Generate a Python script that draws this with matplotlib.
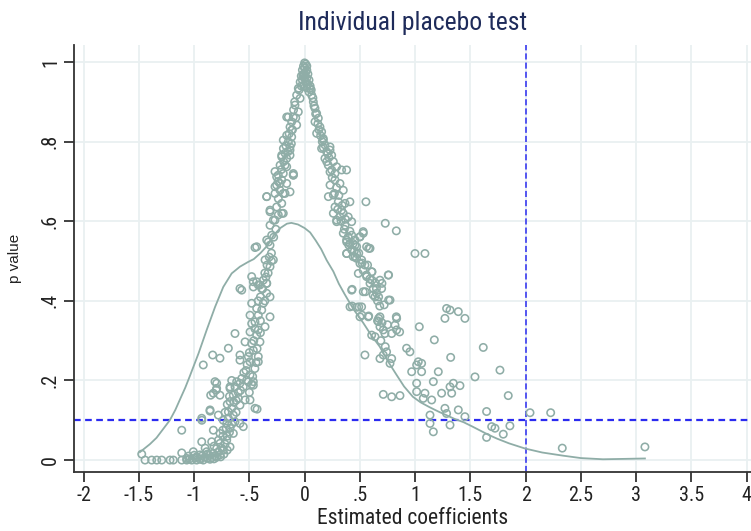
import matplotlib
matplotlib.use("Agg")
import matplotlib.pyplot as plt
from matplotlib import font_manager

# ---------------- data ----------------
title_text = "Individual placebo test"
x_label = "Estimated coefficients"
y_label = "p value"
x_ticks = [-2, -1.5, -1, -0.5, 0, 0.5, 1, 1.5, 2, 2.5, 3, 3.5, 4]
x_tick_labels = ["-2", "-1.5", "-1", "-.5", "0", ".5", "1", "1.5", "2", "2.5", "3", "3.5", "4"]
y_ticks = [0, 0.2, 0.4, 0.6, 0.8, 1.0]
y_tick_labels = ["0", ".2", ".4", ".6", ".8", "1"]
true_coef = 2.0
p_threshold = 0.1

peak_pts = [(0.00, 0.998), (0.01, 0.995), (-0.01, 0.99), (0.02, 0.99), (0.00, 0.985), (-0.02, 0.98),
            (0.02, 0.98), (0.01, 0.975), (-0.01, 0.97), (0.03, 0.97), (-0.03, 0.965), (0.00, 0.96),
            (0.02, 0.96), (-0.02, 0.955), (0.04, 0.955), (-0.04, 0.95), (0.01, 0.95), (0.03, 0.945),
            (-0.03, 0.94), (0.05, 0.94), (-0.01, 0.94), (0.02, 0.935), (-0.05, 0.93), (0.04, 0.925),
            (0.00, 0.97), (-0.015, 0.965)]

left_upper = [(-0.057, 0.934), (-0.072, 0.917), (-0.041, 0.909), (-0.087, 0.892), (-0.057, 0.875),
              (-0.102, 0.862), (-0.147, 0.862), (-0.117, 0.85), (-0.072, 0.842), (-0.132, 0.837),
              (-0.162, 0.816), (-0.117, 0.812), (-0.147, 0.80), (-0.192, 0.783), (-0.177, 0.771),
              (-0.207, 0.766), (-0.132, 0.766), (-0.162, 0.758), (-0.222, 0.741), (-0.177, 0.741),
              (-0.268, 0.725), (-0.102, 0.72), (-0.162, 0.862), (-0.117, 0.829), (-0.193, 0.804),
              (-0.132, 0.779), (-0.132, 0.787), (-0.207, 0.762), (-0.162, 0.737), (-0.253, 0.712),
              (-0.223, 0.695), (-0.268, 0.687), (-0.193, 0.670), (-0.102, 0.716), (-0.09, 0.90),
              (-0.10, 0.88), (-0.08, 0.86), (-0.11, 0.83), (-0.14, 0.82), (-0.12, 0.795),
              (-0.17, 0.79), (-0.15, 0.775), (-0.19, 0.75), (-0.21, 0.73), (-0.24, 0.70)]

left_mid = [(-0.238, 0.716), (-0.193, 0.72), (-0.207, 0.704), (-0.253, 0.691), (-0.162, 0.695),
            (-0.223, 0.678), (-0.177, 0.67), (-0.268, 0.67), (-0.343, 0.662), (-0.238, 0.657),
            (-0.132, 0.674), (-0.102, 0.716), (-0.207, 0.645), (-0.313, 0.624), (-0.253, 0.636),
            (-0.193, 0.62), (-0.238, 0.616), (-0.268, 0.603), (-0.313, 0.59), (-0.298, 0.565),
            (-0.343, 0.553), (-0.313, 0.54), (-0.449, 0.534), (-0.328, 0.548), (-0.358, 0.503),
            (-0.283, 0.503), (-0.313, 0.486), (-0.479, 0.461), (-0.434, 0.448), (-0.374, 0.452),
            (-0.404, 0.44), (-0.343, 0.444), (-0.585, 0.431), (-0.464, 0.435), (-0.434, 0.536),
            (-0.30, 0.52), (-0.33, 0.47), (-0.343, 0.662), (-0.313, 0.628), (-0.207, 0.62),
            (-0.283, 0.603), (-0.26, 0.58), (-0.28, 0.56), (-0.32, 0.51), (-0.34, 0.49),
            (-0.30, 0.50), (-0.36, 0.47), (-0.35, 0.46), (-0.38, 0.43), (-0.40, 0.41),
            (-0.36, 0.40), (-0.42, 0.40)]

left_lower = [(-0.569, 0.427), (-0.464, 0.448), (-0.419, 0.44), (-0.343, 0.444), (-0.388, 0.431),
              (-0.343, 0.419), (-0.313, 0.41), (-0.479, 0.394), (-0.374, 0.394), (-0.434, 0.381),
              (-0.388, 0.377), (-0.494, 0.364), (-0.419, 0.364), (-0.313, 0.36), (-0.449, 0.347),
              (-0.479, 0.343), (-0.358, 0.335), (-0.419, 0.327), (-0.494, 0.322), (-0.63, 0.318),
              (-0.434, 0.314), (-0.404, 0.297), (-0.539, 0.297), (-0.479, 0.293), (-0.464, 0.276),
              (-0.69, 0.281), (-0.585, 0.264), (-0.509, 0.26), (-0.419, 0.26), (-0.494, 0.247),
              (-0.585, 0.251), (-0.419, 0.247), (-0.832, 0.264), (-0.766, 0.256), (-0.917, 0.239),
              (-0.494, 0.214), (-0.569, 0.205), (-0.524, 0.201), (-0.811, 0.197), (-0.615, 0.197),
              (-0.464, 0.197), (-0.675, 0.184), (-0.555, 0.184), (-0.796, 0.18), (-0.45, 0.23),
              (-0.53, 0.225), (-0.47, 0.21), (-0.40, 0.35), (-0.45, 0.33), (-0.40, 0.32),
              (-0.46, 0.30), (-0.43, 0.28), (-0.50, 0.27), (-0.44, 0.245), (-0.52, 0.24),
              (-0.55, 0.22), (-0.48, 0.19), (-0.58, 0.175), (-0.50, 0.17), (-0.62, 0.15)]

left_bottom = [(-0.796, 0.193), (-0.675, 0.18), (-0.63, 0.184), (-0.585, 0.193), (-0.509, 0.197),
               (-0.464, 0.188), (-0.826, 0.168), (-0.766, 0.163), (-0.645, 0.163), (-0.60, 0.155),
               (-0.675, 0.147), (-0.539, 0.151), (-0.585, 0.138), (-0.494, 0.151), (-0.449, 0.13),
               (-0.856, 0.126), (-0.781, 0.113), (-0.69, 0.121), (-0.645, 0.113), (-0.63, 0.096),
               (-0.705, 0.092), (-0.585, 0.092), (-0.931, 0.105), (-0.736, 0.10), (-0.675, 0.08),
               (-0.555, 0.084), (-1.112, 0.075), (-0.826, 0.075), (-0.766, 0.067), (-0.645, 0.067),
               (-0.931, 0.046), (-0.841, 0.046), (-0.766, 0.042), (-0.705, 0.05), (-0.796, 0.029),
               (-0.736, 0.025), (-0.675, 0.033), (-1.112, 0.018), (-1.007, 0.021), (-0.947, 0.013),
               (-0.886, 0.021), (-0.826, 0.017), (-0.766, 0.013), (-1.067, 0.004), (-0.977, 0.0),
               (-0.917, 0.0), (-0.856, 0.002), (-0.796, 0.007), (-1.474, 0.015), (-1.444, 0.0),
               (-1.384, 0.0), (-1.338, 0.0), (-1.293, 0.0), (-1.218, 0.0), (-1.188, 0.0),
               (-1.112, 0.0), (-1.067, 0.0), (-1.022, 0.0), (-0.901, 0.008), (-0.977, 0.008),
               (-1.04, 0.003), (-0.99, 0.005), (-0.95, 0.003), (-0.93, 0.01), (-0.88, 0.005),
               (-0.86, 0.012), (-0.84, 0.006), (-0.81, 0.01), (-0.78, 0.02), (-0.75, 0.03),
               (-0.72, 0.04), (-0.70, 0.06), (-0.68, 0.07), (-0.66, 0.09), (-0.72, 0.12),
               (-0.70, 0.14), (-0.68, 0.16), (-0.80, 0.176), (-0.85, 0.163), (-0.856, 0.123),
               (-0.93, 0.10), (-0.43, 0.128), (-0.74, 0.06), (-0.71, 0.08), (-0.62, 0.12),
               (-0.60, 0.17), (-0.66, 0.20), (-1.00, 0.012), (-0.90, 0.03), (-0.82, 0.035),
               (-0.78, 0.05), (-0.74, 0.075), (-0.69, 0.105), (-0.66, 0.13), (-0.64, 0.145),
               (-0.88, 0.015), (-0.82, 0.003), (-0.76, 0.008), (-0.73, 0.015), (-0.94, 0.002),
               (-1.05, 0.01), (-0.70, 0.025)]

right_upper = [(0.049, 0.934), (0.064, 0.917), (0.079, 0.90), (0.094, 0.884), (0.109, 0.871),
               (0.124, 0.859), (0.094, 0.85), (0.139, 0.837), (0.154, 0.825), (0.109, 0.821),
               (0.169, 0.808), (0.184, 0.792), (0.154, 0.783), (0.199, 0.775), (0.23, 0.787),
               (0.245, 0.766), (0.184, 0.758), (0.26, 0.75), (0.214, 0.741), (0.29, 0.737),
               (0.245, 0.729), (0.335, 0.729), (0.38, 0.729), (0.275, 0.72), (0.06, 0.93),
               (0.075, 0.91), (0.085, 0.89), (0.10, 0.87), (0.12, 0.845), (0.13, 0.83),
               (0.145, 0.815), (0.16, 0.80), (0.17, 0.785), (0.21, 0.77), (0.20, 0.75),
               (0.169, 0.804), (0.23, 0.779), (0.22, 0.76)]

right_mid = [(0.23, 0.724), (0.275, 0.704), (0.23, 0.691), (0.32, 0.695), (0.35, 0.678),
             (0.26, 0.666), (0.215, 0.662), (0.305, 0.649), (0.275, 0.636), (0.366, 0.645),
             (0.335, 0.628), (0.41, 0.649), (0.26, 0.62), (0.32, 0.611), (0.395, 0.611),
             (0.29, 0.599), (0.366, 0.59), (0.426, 0.599), (0.35, 0.57), (0.395, 0.561),
             (0.456, 0.553), (0.381, 0.548), (0.426, 0.528), (0.471, 0.536), (0.381, 0.519),
             (0.44, 0.511), (0.555, 0.649), (0.73, 0.595), (0.83, 0.576), (0.35, 0.62),
             (0.29, 0.603), (0.44, 0.544), (0.50, 0.561), (0.53, 0.574), (0.58, 0.532),
             (0.47, 0.507), (0.53, 0.477), (0.56, 0.465), (0.61, 0.473), (0.76, 0.465),
             (0.61, 0.452), (0.70, 0.444), (0.65, 0.431), (0.55, 0.423), (0.43, 0.429),
             (0.62, 0.415), (0.67, 0.41), (0.76, 0.402), (0.68, 0.387), (0.43, 0.387),
             (0.49, 0.385), (0.52, 0.364), (0.58, 0.362), (0.67, 0.356), (0.83, 0.36),
             (0.25, 0.71), (0.29, 0.685), (0.27, 0.67), (0.31, 0.665), (0.30, 0.63),
             (0.34, 0.64), (0.33, 0.60), (0.37, 0.605), (0.36, 0.58), (0.41, 0.575),
             (0.40, 0.54), (0.45, 0.525), (0.49, 0.52), (0.52, 0.495), (0.57, 0.49)]

right_lower = [(0.38, 0.553), (0.411, 0.544), (0.456, 0.54), (0.501, 0.561), (0.531, 0.57),
               (0.426, 0.565), (0.38, 0.519), (0.471, 0.519), (0.561, 0.536), (0.592, 0.532),
               (0.516, 0.503), (0.456, 0.511), (0.501, 0.494), (0.546, 0.49), (0.607, 0.473),
               (0.561, 0.461), (0.486, 0.469), (0.682, 0.452), (0.592, 0.444), (0.622, 0.431),
               (0.652, 0.419), (0.697, 0.431), (0.531, 0.423), (0.637, 0.41), (0.757, 0.465),
               (0.426, 0.427), (0.773, 0.402), (0.411, 0.385), (0.471, 0.384), (0.516, 0.385),
               (0.501, 0.36), (0.577, 0.36), (0.682, 0.36), (0.667, 0.348), (0.682, 0.335),
               (0.712, 0.327), (0.607, 0.314), (0.637, 0.31), (0.727, 0.318), (0.788, 0.318),
               (0.833, 0.327), (0.86, 0.322), (0.818, 0.339), (0.833, 0.356), (0.546, 0.264),
               (0.682, 0.255), (0.712, 0.264), (0.742, 0.272), (0.788, 0.255), (0.773, 0.243),
               (0.66, 0.35), (0.59, 0.455), (0.64, 0.445), (0.66, 0.40), (0.72, 0.39),
               (0.70, 0.345), (0.75, 0.34), (0.69, 0.30), (0.73, 0.285)]

right_tail = [(0.923, 0.281), (0.953, 0.272), (1.029, 0.247), (1.059, 0.243), (0.969, 0.222),
              (1.059, 0.222), (0.999, 0.519), (1.089, 0.519), (1.285, 0.381), (1.316, 0.377),
              (1.391, 0.373), (1.27, 0.356), (1.451, 0.356), (1.038, 0.335), (1.174, 0.302),
              (1.322, 0.258), (1.617, 0.283), (1.21, 0.222), (1.542, 0.209), (1.768, 0.226),
              (1.014, 0.193), (1.165, 0.197), (1.24, 0.168), (1.316, 0.184), (1.346, 0.193),
              (1.406, 0.187), (1.331, 0.168), (1.014, 0.172), (1.089, 0.168), (1.15, 0.151),
              (0.712, 0.165), (0.788, 0.159), (0.863, 0.162), (1.074, 0.155), (1.27, 0.13),
              (1.391, 0.126), (1.135, 0.113), (1.285, 0.117), (1.451, 0.109), (1.647, 0.122),
              (1.843, 0.162), (1.135, 0.092), (1.316, 0.088), (1.165, 0.071), (1.693, 0.084),
              (1.723, 0.08), (1.858, 0.086), (1.798, 0.065), (1.647, 0.057), (2.04, 0.119),
              (2.227, 0.119), (2.332, 0.030), (3.08, 0.033), (1.014, 0.239)]

curve_x = [-1.49, -1.40, -1.34, -1.28, -1.22, -1.17, -1.13, -1.08, -1.04, -0.96, -0.886, -0.81,
           -0.736, -0.66, -0.585, -0.51, -0.46, -0.40, -0.34, -0.28, -0.22, -0.16, -0.12, -0.06,
           0.0, 0.05, 0.10, 0.15, 0.20, 0.26, 0.31, 0.36, 0.44, 0.53, 0.60, 0.68, 0.75, 0.83,
           0.90, 0.98, 1.05, 1.13, 1.21, 1.29, 1.36, 1.44, 1.52, 1.59, 1.66, 1.74, 1.85, 1.995,
           2.15, 2.34, 2.50, 2.70, 2.90, 3.08]
curve_y = [0.020, 0.040, 0.056, 0.078, 0.100, 0.126, 0.151, 0.182, 0.210, 0.268, 0.327, 0.385,
           0.435, 0.469, 0.486, 0.498, 0.505, 0.520, 0.538, 0.565, 0.583, 0.594, 0.596, 0.592,
           0.583, 0.572, 0.552, 0.530, 0.502, 0.474, 0.443, 0.418, 0.380, 0.345, 0.315, 0.285,
           0.250, 0.215, 0.185, 0.159, 0.145, 0.133, 0.122, 0.112, 0.103, 0.095, 0.084, 0.074,
           0.064, 0.054, 0.042, 0.029, 0.019, 0.011, 0.005, 0.002, 0.003, 0.004]

# ---------------- style ----------------
names = {f.name for f in font_manager.fontManager.ttflist}
narrow = None
for cand in ["Liberation Sans Narrow", "Arial Narrow", "Roboto Condensed", "Open Sans Condensed"]:
    if cand in names:
        narrow = cand
        break
narrow_kw = {"fontfamily": narrow} if narrow else {"fontfamily": "Liberation Sans"}
if narrow is None:
    has_cond = any(f.name == "DejaVu Sans" and str(f.stretch) in ("condensed", "semi-condensed")
                   for f in font_manager.fontManager.ttflist)
    if has_cond:
        narrow_kw = {"fontfamily": "DejaVu Sans", "fontstretch": "condensed"}
plain = "Liberation Sans" if "Liberation Sans" in names else "DejaVu Sans"

pt_color = "#8fada7"
grid_color = "#e9f0f1"
blue = "#2b2bf0"

fig = plt.figure(figsize=(7.51, 5.31), dpi=100)
ax = fig.add_axes([74 / 751, 1 - 472 / 531, (751 - 74) / 751, (472 - 45) / 531])

all_pts = (peak_pts + left_upper + left_mid + left_lower + left_bottom
           + right_upper + right_mid + right_lower + right_tail)
px = [p[0] for p in all_pts]
py = [p[1] for p in all_pts]

ax.set_xlim(-2.087, 4.04)
ax.set_ylim(-0.030, 1.043)

ax.set_xticks(x_ticks)
ax.set_xticklabels(x_tick_labels, fontsize=14.5, color="#222222", **narrow_kw)
ax.set_yticks(y_ticks)
ax.set_yticklabels(y_tick_labels, fontsize=14.5, color="#222222", rotation=90, va="center", **narrow_kw)

ax.grid(True, color=grid_color, linewidth=1.3, zorder=0)
ax.set_axisbelow(True)

ax.axhline(p_threshold, color=blue, linewidth=1.6, dashes=(3, 2), zorder=1)
ax.axvline(true_coef, color=blue, linewidth=1.1, dashes=(4, 2), zorder=1)

ax.plot(curve_x, curve_y, color=pt_color, linewidth=1.3, zorder=2)
ax.scatter(px, py, s=28, facecolors="none", edgecolors=pt_color, linewidths=1.15, zorder=3)

for s in ["top", "right"]:
    ax.spines[s].set_visible(False)
for s in ["left", "bottom"]:
    ax.spines[s].set_color("#333333")
    ax.spines[s].set_linewidth(1.3)
ax.tick_params(axis="both", direction="out", length=7, width=1.3, color="#333333", pad=3)

ax.set_xlabel(x_label, fontsize=15.5, color="#222222", labelpad=2, **narrow_kw)
ax.set_ylabel(y_label, fontfamily=plain, fontsize=11, color="#222222", labelpad=14)
ax.set_title(title_text, fontsize=18.5, color="#1e2b5a", pad=11, **narrow_kw)

fig.savefig("out.png", dpi=100)
